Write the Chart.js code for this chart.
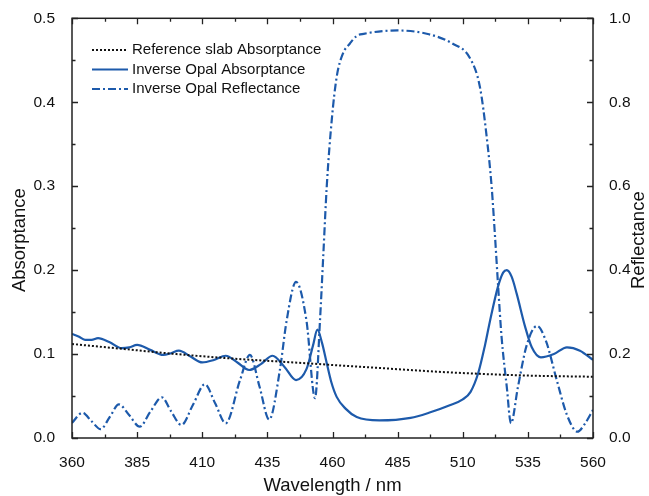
<!DOCTYPE html>
<html>
<head>
<meta charset="utf-8">
<script src="https://cdn.jsdelivr.net/npm/chart.js@4.4.0/dist/chart.umd.min.js"></script>
<style>
  html, body { margin: 0; padding: 0; background: #fff; }
  #chart { display: block; }
</style>
</head>
<body>
<canvas id="chart" width="649" height="496"></canvas>
<script>
// reference slab absorptance (dotted)
const refWl = [360, 380, 400, 420, 440, 460, 480, 500, 520, 540, 560];
const refAbs = [0.112, 0.106, 0.100, 0.095, 0.091, 0.087, 0.083, 0.079, 0.076, 0.074, 0.073];

// inverse opal absorptance (solid)
const ioWl = [360, 362.5, 365, 367.5, 370, 374.5, 379, 382, 385, 390, 395, 398, 401, 405.5, 410, 414.5, 419, 423.5, 428, 432.5,
    437, 441.5, 446, 450, 452.5, 454.2, 456, 457.8, 459.5, 461.6, 465, 469.3, 478, 490, 497, 505, 510, 513, 516, 518.5,
    520.5, 523.5, 525.5, 526.9, 528.8, 530.7, 533.9, 536.5, 540, 545, 550, 555, 560];
const ioAbs = [0.124, 0.121, 0.117, 0.117, 0.119, 0.114, 0.107, 0.108, 0.111, 0.105, 0.099, 0.101, 0.104, 0.097, 0.090, 0.093, 0.098, 0.090, 0.081, 0.088,
    0.098, 0.085, 0.069, 0.082, 0.110, 0.129, 0.113, 0.089, 0.067, 0.049, 0.035, 0.025, 0.021, 0.024, 0.030, 0.039, 0.046, 0.055, 0.078, 0.110,
    0.140, 0.180, 0.197, 0.200, 0.192, 0.172, 0.133, 0.108, 0.096, 0.100, 0.108, 0.104, 0.093];

// inverse opal reflectance (dash-dot, right axis)
const reflWl = [360, 364, 367.5, 371, 374.5, 378, 382, 386, 390, 394.5, 398, 402, 406.5, 411, 415, 419, 424.5, 428.3, 432, 435.7,
    439.8, 442.4, 446, 450, 453.3, 455.2, 456.5, 457.8, 459.7, 461.6, 464, 466.7, 469.3, 472, 485, 497, 506, 512.8, 516.6, 519.2,
    521.1, 522.4, 523.6, 524.9, 526.9, 528.5, 531.2, 534.5, 538.5, 542, 546, 550, 554, 557, 560];
const reflVal = [0.036, 0.060, 0.040, 0.021, 0.050, 0.080, 0.054, 0.027, 0.062, 0.097, 0.064, 0.031, 0.080, 0.128, 0.082, 0.035, 0.138, 0.198, 0.122, 0.044,
    0.162, 0.280, 0.372, 0.280, 0.095, 0.280, 0.440, 0.600, 0.757, 0.860, 0.916, 0.940, 0.958, 0.963, 0.971, 0.962, 0.940, 0.905, 0.836, 0.717,
    0.598, 0.479, 0.360, 0.241, 0.122, 0.035, 0.122, 0.220, 0.267, 0.230, 0.140, 0.055, 0.015, 0.035, 0.067];

const xTicks = [360, 385, 410, 435, 460, 485, 510, 535, 560];

const blue = '#1d5aab';
const font = 'Arial, "Liberation Sans", sans-serif';

function pts(xs, ys) {
    return xs.map((x, i) => ({ x: x, y: ys[i] }));
}

// inward ticks, frame, axis titles and legend
const decor = {
    id: 'decor',
    afterDraw(chart) {
        const ctx = chart.ctx;
        const a = chart.chartArea;
        const sx = chart.scales.x, sy = chart.scales.y;
        ctx.save();
        ctx.strokeStyle = '#222';
        ctx.lineWidth = 1.5;
        ctx.strokeRect(a.left, a.top, a.right - a.left, a.bottom - a.top);

        ctx.lineWidth = 1.3;
        ctx.beginPath();
        for (let v = 360; v <= 560; v += 12.5) {
            const px = Math.round(sx.getPixelForValue(v)) + 0.5;
            const len = (v - 360) % 25 === 0 ? 6 : 3.5;
            ctx.moveTo(px, a.bottom); ctx.lineTo(px, a.bottom - len);
            ctx.moveTo(px, a.top); ctx.lineTo(px, a.top + len);
        }
        for (let k = 0; k <= 10; k++) {
            const py = Math.round(sy.getPixelForValue(k * 0.05)) + 0.5;
            const len = k % 2 === 0 ? 6 : 3.5;
            ctx.moveTo(a.left, py); ctx.lineTo(a.left + len, py);
            ctx.moveTo(a.right, py); ctx.lineTo(a.right - len, py);
        }
        ctx.stroke();

        // axis titles
        ctx.fillStyle = '#111';
        ctx.font = '18.5px ' + font;
        ctx.textAlign = 'center';
        ctx.textBaseline = 'middle';
        ctx.fillText('Wavelength / nm', (a.left + a.right) / 2, 486);
        ctx.save();
        ctx.translate(20, (a.top + a.bottom) / 2 + 12);
        ctx.rotate(-Math.PI / 2);
        ctx.fillText('Absorptance', 0, 0);
        ctx.restore();
        ctx.save();
        ctx.translate(639, (a.top + a.bottom) / 2 + 12);
        ctx.rotate(-Math.PI / 2);
        ctx.fillText('Reflectance', 0, 0);
        ctx.restore();

        // legend
        ctx.font = '15px ' + font;
        ctx.textAlign = 'left';
        chart.data.datasets.forEach((ds, i) => {
            const y = 50 + i * 19.5;
            ctx.save();
            ctx.strokeStyle = ds.borderColor;
            ctx.lineWidth = ds.borderWidth;
            ctx.setLineDash(ds.borderDash || []);
            ctx.beginPath();
            ctx.moveTo(92, y); ctx.lineTo(128, y);
            ctx.stroke();
            ctx.restore();
            ctx.fillStyle = '#111';
            ctx.fillText(ds.label, 132, y);
        });
        ctx.restore();
    }
};

const chart = new Chart(document.getElementById('chart'), {
    type: 'line',
    data: {
        datasets: [{
            label: 'Reference slab Absorptance',
            data: pts(refWl, refAbs),
            borderColor: '#111',
            borderWidth: 2,
            borderDash: [2, 2],
            yAxisID: 'y'
        }, {
            label: 'Inverse Opal Absorptance',
            data: pts(ioWl, ioAbs),
            borderColor: blue,
            borderWidth: 2.2,
            yAxisID: 'y'
        }, {
            label: 'Inverse Opal Reflectance',
            data: pts(reflWl, reflVal),
            borderColor: blue,
            borderWidth: 2.2,
            borderDash: [8, 3, 2, 3],
            yAxisID: 'y1'
        }]
    },
    options: {
        responsive: false,
        animation: false,
        layout: { padding: { top: 18 } },
        elements: {
            point: { radius: 0 },
            line: { cubicInterpolationMode: 'monotone', fill: false }
        },
        plugins: {
            legend: { display: false },
            tooltip: { enabled: false }
        },
        scales: {
            x: {
                type: 'linear',
                min: 360,
                max: 560,
                afterBuildTicks: scale => { scale.ticks = xTicks.map(v => ({ value: v })); },
                afterFit: scale => { scale.height = 58; },
                grid: { display: false },
                border: { display: false },
                ticks: { padding: 7, color: '#111', font: { family: font, size: 15.5 }, maxRotation: 0 }
            },
            y: {
                position: 'left',
                min: 0,
                max: 0.5,
                afterFit: scale => { scale.width = 72; },
                grid: { display: false },
                border: { display: false },
                ticks: { stepSize: 0.1, padding: 9, color: '#111', font: { family: font, size: 15.5 },
                    callback: v => v.toFixed(1) }
            },
            y1: {
                position: 'right',
                min: 0,
                max: 1,
                afterFit: scale => { scale.width = 56; },
                grid: { display: false },
                border: { display: false },
                ticks: { stepSize: 0.2, padding: 8, color: '#111', font: { family: font, size: 15.5 },
                    callback: v => v.toFixed(1) }
            }
        }
    },
    plugins: [decor]
});
</script>
</body>
</html>
